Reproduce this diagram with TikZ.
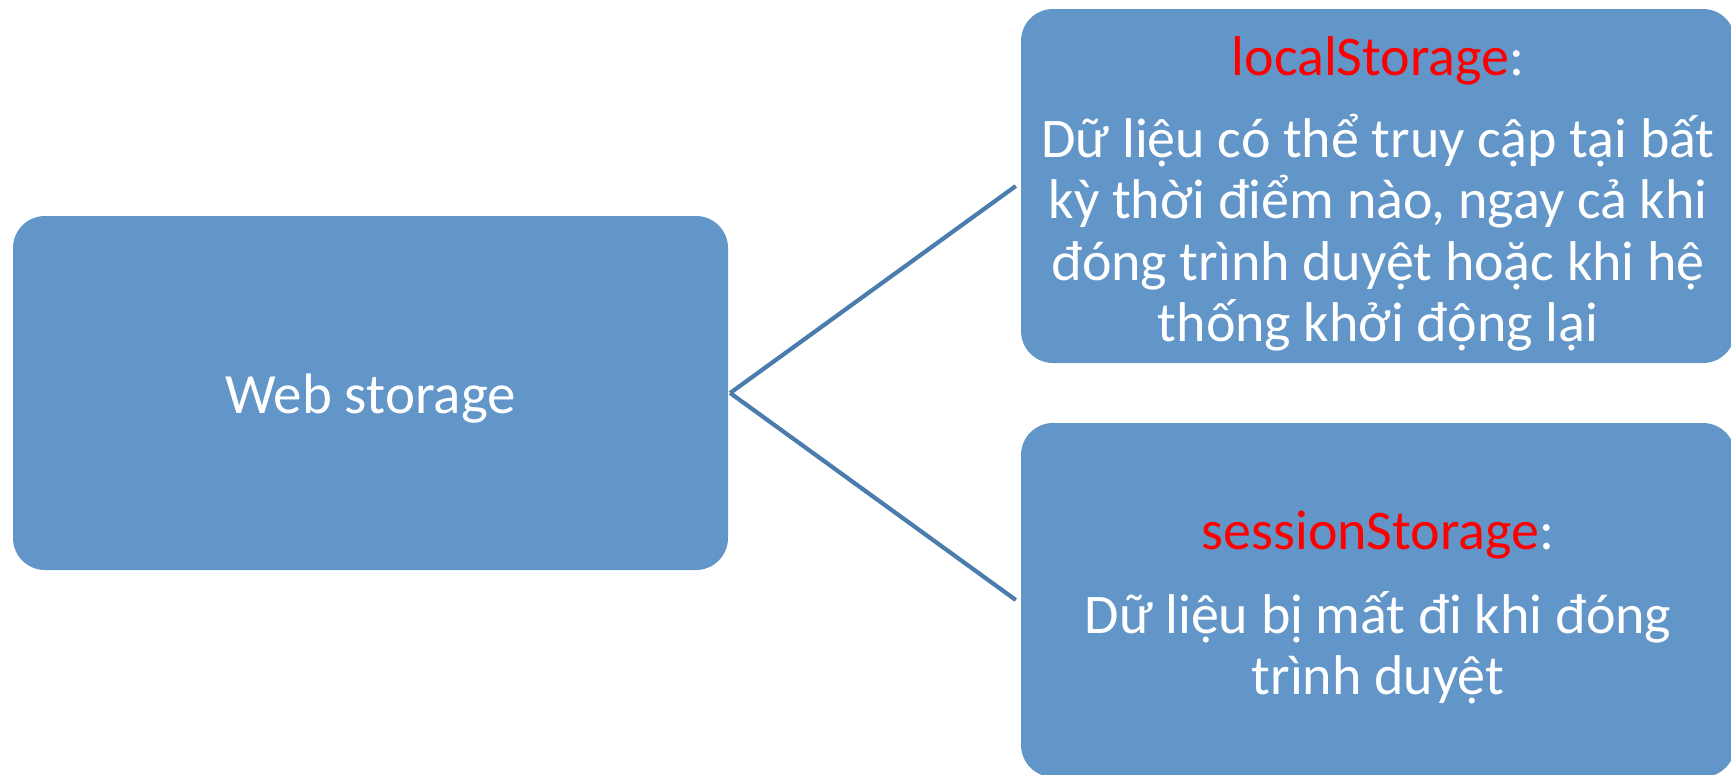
\documentclass[tikz,border=0pt]{standalone}
\usepackage{fontspec}
\setmainfont{Carlito}
\definecolor{boxfill}{RGB}{98,150,201}
\definecolor{linecol}{RGB}{74,124,173}
\definecolor{headred}{RGB}{255,0,0}
\tikzset{
  box/.style={fill=boxfill, rounded corners=32pt, inner sep=0pt, minimum width=714pt, minimum height=354pt},
  conn/.style={draw=linecol, line width=4.2pt},
  bigtxt/.style={text=white, inner sep=0pt, font=\fontsize{57}{68}\selectfont},
  smalltxt/.style={text=white, inner sep=0pt, text width=714pt, align=flush center, font=\fontsize{56}{61.5}\selectfont}
}
\begin{document}
\begin{tikzpicture}[x=1pt,y=-1pt]
\useasboundingbox (0,0) rectangle (1731,774);
\clip (0,0) rectangle (1731,774);
\node[box, minimum width=715pt] (web) at (370.5,393) {};
\node[box] (local) at (1378,186) {};
\node[box] (session) at (1378,600) {};
\node[bigtxt, anchor=base] (webtxt) at (370.5,413) {Web storage};
\node[smalltxt, anchor=base] (localtxt) at (1378,75) {\textcolor{headred}{localStorage}:\\[20.5pt]
Dữ liệu có thể truy cập tại bất\\
kỳ thời điểm nào, ngay cả khi\\
đóng trình duyệt hoặc khi hệ\\
thống khởi động lại};
\node[smalltxt, anchor=base] (sessiontxt) at (1378,549) {\textcolor{headred}{sessionStorage}:\\[22.5pt]
Dữ liệu bị mất đi khi đóng\\
trình duyệt};
\draw[conn] ([xshift=2pt]web.east) -- ([xshift=-5pt]local.west);
\draw[conn] ([xshift=2pt]web.east) -- ([xshift=-5pt]session.west);
\end{tikzpicture}
\end{document}
